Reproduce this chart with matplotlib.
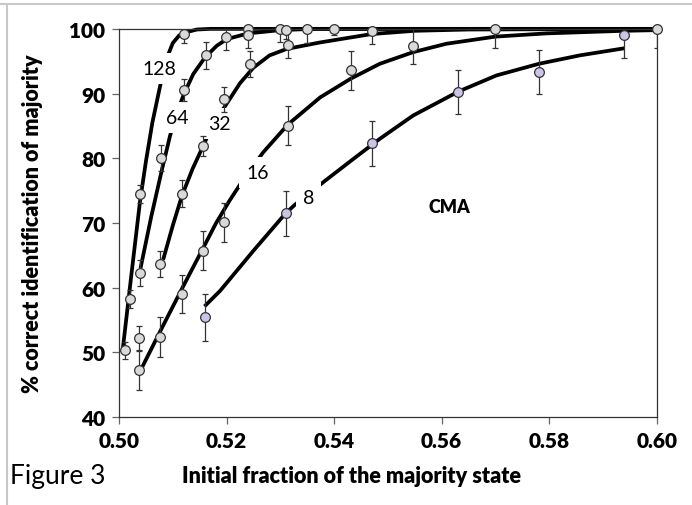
import matplotlib
matplotlib.use("Agg")
import matplotlib.pyplot as plt
from matplotlib.lines import Line2D

# measured points (x = initial fraction, y = % correct, err = error bar)
x128 = [0.5011, 0.5020, 0.5039, 0.5121, 0.5240, 0.5299, 0.5349, 0.5400]
y128 = [50.3, 58.2, 74.5, 99.2, 100, 100, 100, 100]
e128 = [1.3, 1.4, 1.4, 1.4, 1.5, 2.0, 2.2, 1.0]

x64 = [0.5039, 0.5078, 0.5121, 0.5161, 0.5199, 0.5240, 0.5310, 0.5700, 0.6000]
y64 = [62.3, 80.0, 90.5, 95.9, 98.7, 99.0, 99.9, 100, 100]
e64 = [2.0, 2.0, 1.7, 2.1, 2.0, 1.9, 1.5, 3.0, 3.0]

x32 = [0.5038, 0.5077, 0.5117, 0.5157, 0.5196, 0.5243, 0.5314, 0.5470]
y32 = [52.2, 63.6, 74.5, 81.9, 89.1, 94.6, 97.5, 99.6]
e32 = [1.9, 2.0, 2.1, 1.5, 1.9, 2.0, 2.0, 2.0]

x16 = [0.5038, 0.5077, 0.5118, 0.5157, 0.5196, 0.5314, 0.5431, 0.5547]
y16 = [47.2, 52.4, 59.0, 65.7, 70.1, 85.0, 93.6, 97.4]
e16 = [3.0, 3.1, 3.0, 3.0, 3.0, 3.0, 3.0, 2.9]

x8 = [0.5159, 0.5310, 0.5470, 0.5631, 0.5781, 0.5939]
y8 = [55.4, 71.5, 82.3, 90.3, 93.4, 99.1]
e8 = [3.6, 3.5, 3.5, 3.4, 3.4, 3.6]

# fitted curves
c128_x = [0.5007, 0.5023, 0.5039, 0.5050, 0.5062, 0.5076, 0.5088, 0.5100, 0.5112, 0.5126, 0.5145, 0.5170, 0.5250, 0.6000]
c128_y = [50.5, 62.0, 73.3, 79.5, 85.5, 91.0, 95.3, 97.8, 99.0, 99.5, 99.9, 100, 100, 100]

c64_x = [0.5040, 0.5060, 0.5080, 0.5095, 0.5108, 0.5120, 0.5138, 0.5160, 0.5182, 0.5200, 0.5240, 0.5300, 0.5360, 0.6000]
c64_y = [63.0, 71.0, 78.3, 83.5, 87.0, 89.8, 93.0, 95.6, 97.4, 98.4, 99.3, 99.8, 100, 100]

c32_x = [0.5082, 0.5100, 0.5117, 0.5137, 0.5157, 0.5170, 0.5185, 0.5200, 0.5225, 0.5250, 0.5280, 0.5312, 0.5374, 0.5470, 0.5550, 0.5650, 0.6000]
c32_y = [64.3, 69.6, 74.2, 78.4, 82.0, 84.4, 86.5, 88.4, 91.6, 94.0, 95.9, 96.9, 97.9, 99.2, 99.7, 99.9, 100]

c16_x = [0.5040, 0.5080, 0.5120, 0.5157, 0.5180, 0.5206, 0.5228, 0.5268, 0.5314, 0.5374, 0.5431, 0.5485, 0.5547, 0.5609, 0.5700, 0.5795, 0.5939, 0.6000]
c16_y = [47.2, 53.8, 60.3, 66.2, 69.9, 73.5, 76.3, 80.9, 85.2, 89.4, 92.3, 94.6, 96.4, 97.7, 98.8, 99.3, 99.7, 99.8]

c8_x = [0.5159, 0.5188, 0.5250, 0.5310, 0.5327, 0.5383, 0.5436, 0.5485, 0.5547, 0.5631, 0.5702, 0.5781, 0.5857, 0.5940]
c8_y = [57.1, 59.5, 65.7, 71.5, 72.8, 76.5, 79.9, 83.0, 86.6, 90.3, 92.8, 94.6, 95.9, 97.0]

labels = ["128", "64", "32", "16", "8"]
label_pos = [(0.5076, 93.8), (0.5108, 86.3), (0.5187, 85.3), (0.5258, 77.8), (0.5352, 73.9)]

plt.rcParams["font.family"] = ["Lato", "DejaVu Sans"]

fig = plt.figure(figsize=(6.92, 5.06), dpi=100)
ax = fig.add_axes([0.172, 0.174, 0.777, 0.767])

curves = [(c128_x, c128_y), (c64_x, c64_y), (c32_x, c32_y), (c16_x, c16_y), (c8_x, c8_y)]
for cx, cy in curves:
    ax.plot(cx, cy, color="black", lw=2.7, solid_capstyle="butt", zorder=2, clip_on=False)

series = [(x128, y128, e128, "#d9d9d9"), (x64, y64, e64, "#d9d9d9"),
          (x32, y32, e32, "#d9d9d9"), (x16, y16, e16, "#d9d9d9"),
          (x8, y8, e8, "#cdc3e8")]
for xs, ys, es, fc in series:
    ax.errorbar(xs, ys, yerr=es, fmt="none", ecolor="#333333", elinewidth=0.9,
                capsize=2.5, capthick=0.9, zorder=4)
    ax.plot(xs, ys, "o", ms=7, mfc=fc, mec="#333333", mew=0.9, zorder=5, clip_on=False)

for lab, (lx, ly) in zip(labels, label_pos):
    ax.text(lx, ly, lab, fontsize=14, ha="center", va="center", zorder=3,
            bbox=dict(facecolor="white", edgecolor="none", pad=5))
ax.text(0.5615, 72.6, "CMA", fontsize=13, fontweight="heavy", ha="center", va="center")

ax.set_xlim(0.50, 0.60)
ax.set_ylim(40, 100)
ax.set_xticks([0.50, 0.52, 0.54, 0.56, 0.58, 0.60])
ax.set_xticklabels(["0.50", "0.52", "0.54", "0.56", "0.58", "0.60"])
ax.set_yticks([40, 50, 60, 70, 80, 90, 100])
for sp in ax.spines.values():
    sp.set_color("#333333")
    sp.set_linewidth(0.9)
ax.tick_params(direction="out", length=5, width=0.9, color="#666666", labelsize=15, pad=5)
for t in ax.get_xticklabels() + ax.get_yticklabels():
    t.set_fontweight("heavy")
ax.set_ylabel("% correct identification of majority", fontsize=15.5, fontweight="heavy")
ax.yaxis.set_label_coords(-0.141, 0.5)

fig.text(352 / 692, 1 - 477 / 506, "Initial fraction of the majority state",
         fontsize=15.5, fontweight="heavy", ha="center", va="center")
fig.text(10 / 692, 1 - 477 / 506, "Figure 3", fontsize=19, ha="left", va="center")

# light frame lines at the top and left edge
fig.add_artist(Line2D([0, 1], [1 - 5 / 506] * 2, color="#c8c8c8", lw=1.5))
fig.add_artist(Line2D([7 / 692] * 2, [0, 1 - 5 / 506], color="#c8c8c8", lw=1.5))

fig.savefig("out.png", dpi=100)
